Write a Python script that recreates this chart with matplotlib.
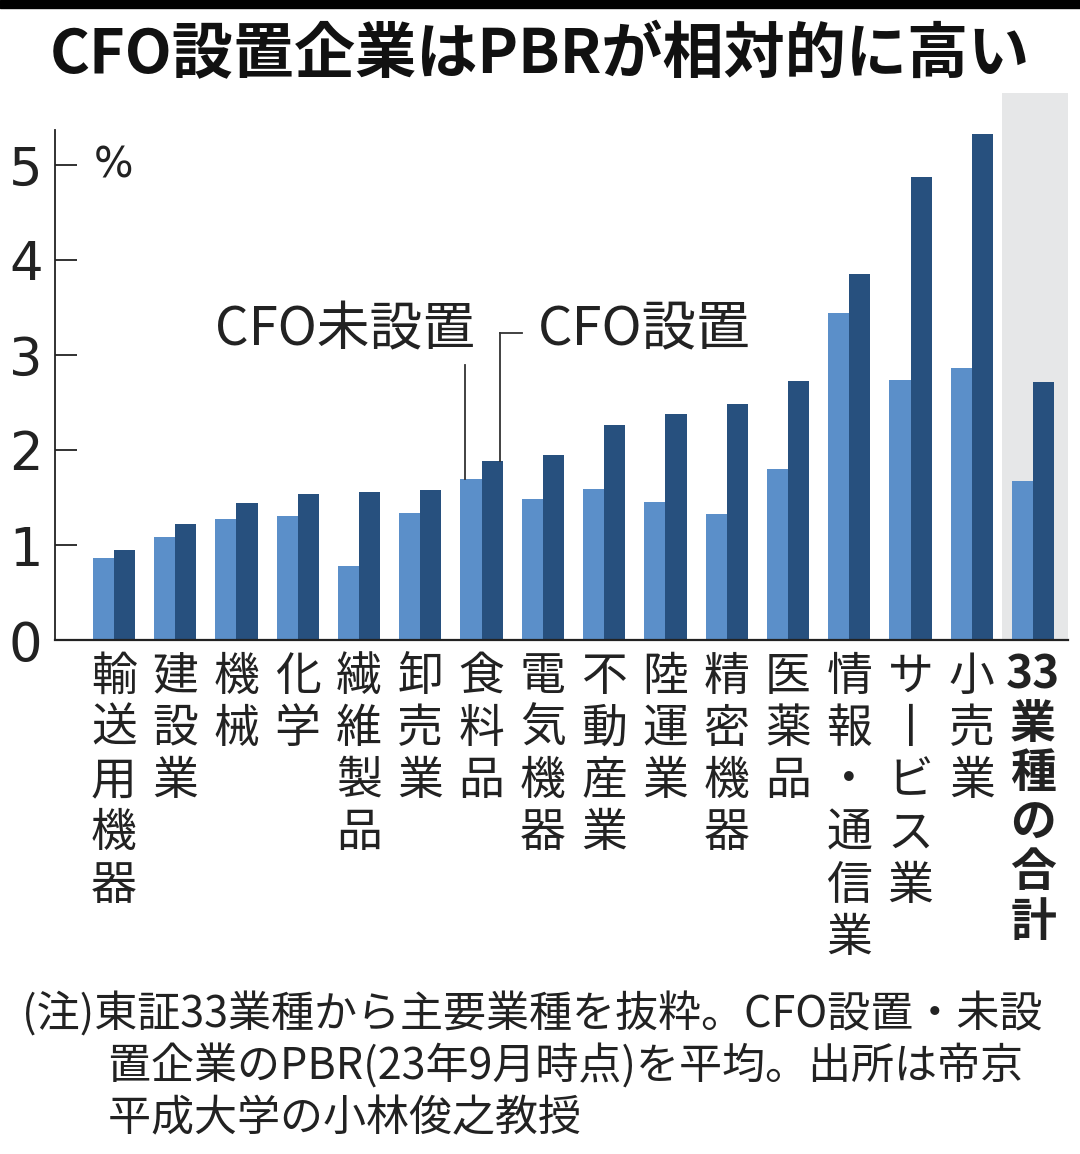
import matplotlib
matplotlib.use("Agg")
import matplotlib.pyplot as plt
import numpy as np

plt.rcParams["font.family"] = ["Noto Sans CJK JP", "DejaVu Sans"]

categories = ["輸送用機器", "建設業", "機械", "化学", "繊維製品", "卸売業", "食料品",
              "電気機器", "不動産業", "陸運業", "精密機器", "医薬品", "情報・通信業",
              "サービス業", "小売業", "33業種の合計"]
no_cfo = [0.86, 1.08, 1.27, 1.31, 0.78, 1.34, 1.69, 1.48, 1.59, 1.45, 1.33, 1.80,
          3.44, 2.74, 2.86, 1.67]
with_cfo = [0.95, 1.22, 1.44, 1.54, 1.56, 1.58, 1.88, 1.95, 2.26, 2.38, 2.48, 2.73,
            3.85, 4.87, 5.33, 2.72]
yticks = [0, 1, 2, 3, 4, 5]

LIGHT = "#5b8fc9"
DARK = "#27507e"
GREY = "#e6e7e8"

fig = plt.figure(figsize=(10.8, 11.54), dpi=100)
# black strip on top of the screenshot
fig.patches.append(plt.Rectangle((0, 1 - 8 / 1154), 1, 8 / 1154, transform=fig.transFigure,
                                 color="black", zorder=0))

ax = fig.add_axes([55 / 1080, 1 - 640 / 1154, 1013 / 1080, 547 / 1154])
x = np.arange(len(categories))
w = 0.345

ax.axvspan(14.5, 15.6, color=GREY, zorder=0, lw=0)
ax.bar(x - w / 2, no_cfo, width=w, color=LIGHT, zorder=2)
ax.bar(x + w / 2, with_cfo, width=w, color=DARK, zorder=2)

ax.set_xlim(-0.96, 15.57)
ax.set_ylim(0, 547 / 95)
ax.set_yticks(yticks)
ax.set_yticklabels([str(t) for t in yticks], fontsize=38, family="Liberation Sans Narrow")
ax.tick_params(axis="y", direction="in", length=16, width=1.3, pad=9, colors="#222222")
ax.set_xticks([])
for s in ["top", "right"]:
    ax.spines[s].set_visible(False)
ax.spines["left"].set_bounds(0, 5.37)
ax.spines["left"].set_linewidth(1.3)
ax.spines["bottom"].set_linewidth(1.6)
ax.spines["left"].set_color("#222222")
ax.spines["bottom"].set_color("#222222")

ax.text(0.0, 5.0, "%", fontsize=30, ha="center", va="center", family="DejaVu Sans",
        color="#222222")

# vertical category labels
xt = ax.get_xaxis_transform()
for i, name in enumerate(categories):
    if name == "33業種の合計":
        lines = ["33"] + list(name[2:])
        weight = "bold"
    else:
        lines = [("丨" if c == "ー" else c) for c in name]
        weight = "normal"
    ax.text(i, -0.022, "\n".join(lines), transform=xt, ha="center", va="top",
            fontsize=33, linespacing=1.1, fontweight=weight, color="#222222")

# series labels with leader lines
ax.text(3.77, 3.26, "CFO未設置", fontsize=38, ha="center", va="center", color="#222222")
ax.text(8.66, 3.26, "CFO設置", fontsize=39, ha="center", va="center", color="#222222")
ax.plot([5.73, 5.73], [no_cfo[6], 2.89], color="#333333", lw=1.3, zorder=3)
ax.plot([6.3, 6.3], [with_cfo[6], 3.23], color="#333333", lw=1.3, zorder=3)
ax.plot([6.3, 6.66], [3.23, 3.23], color="#333333", lw=1.3, zorder=3)

fig.text(0.5, 1 - 55 / 1154, "CFO設置企業はPBRが相対的に高い", fontsize=44,
         fontweight="bold", ha="center", va="center", color="#111111")

note = ["(注)東証33業種から主要業種を抜粋。CFO設置・未設",
        "　　置企業のPBR(23年9月時点)を平均。出所は帝京",
        "　　平成大学の小林俊之教授"]
for k, line in enumerate(note):
    fig.text(22 / 1080, 1 - (1015 + 52 * k) / 1154, line, fontsize=31, ha="left",
             va="center", color="#222222")

fig.savefig("out.png", dpi=100)
